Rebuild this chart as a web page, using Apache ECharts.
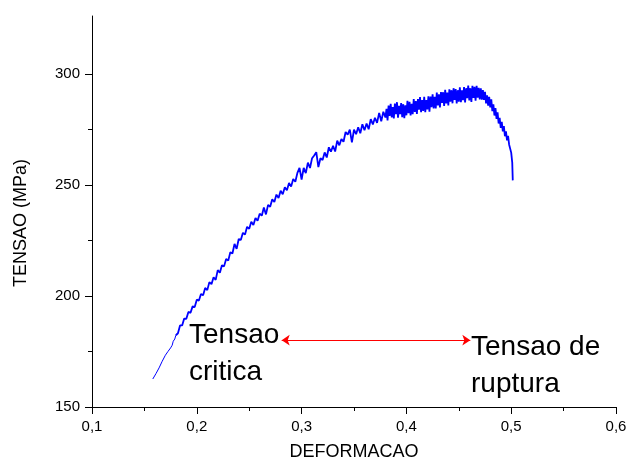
<!DOCTYPE html>
<html>
<head>
<meta charset="utf-8">
<script src="https://cdn.jsdelivr.net/npm/echarts@6/dist/echarts.min.js"></script>
<style>
  html, body { margin: 0; padding: 0; background: #fff; }
  #chart { width: 628px; height: 460px; }
</style>
</head>
<body>
<div id="chart"></div>
<script>
// Stress-strain record of the tensile test (strain, stress in MPa)
const strain = [
  0.158, 0.161, 0.164, 0.167, 0.170, 0.1725, 0.175, 0.1765, 0.1775, 0.178, 0.179,
  0.180, 0.182, 0.184, 0.186, 0.188, 0.190, 0.192, 0.194, 0.196, 0.198,
  0.200, 0.202, 0.204, 0.206, 0.208, 0.210, 0.212, 0.214, 0.216, 0.218,
  0.220, 0.222, 0.224, 0.226, 0.228, 0.230, 0.232, 0.234, 0.236, 0.238,
  0.240, 0.242, 0.244, 0.246, 0.248, 0.250, 0.252, 0.254, 0.256, 0.258,
  0.260, 0.262, 0.264, 0.266, 0.268, 0.270, 0.272, 0.274, 0.276, 0.278,
  0.280, 0.282, 0.284, 0.286, 0.288, 0.290, 0.292, 0.294, 0.296, 0.298,
  0.300, 0.302, 0.304, 0.306, 0.308, 0.310, 0.312, 0.314, 0.316, 0.318,
  0.320, 0.322, 0.324, 0.326, 0.328, 0.330, 0.332, 0.334, 0.336, 0.338,
  0.340, 0.342, 0.344, 0.346, 0.348, 0.350, 0.352, 0.354, 0.356, 0.358,
  0.360, 0.362, 0.364, 0.366, 0.368, 0.370, 0.372, 0.374, 0.376, 0.378,
  0.380,
  0.381, 0.382, 0.383, 0.384, 0.385, 0.386, 0.387, 0.388, 0.389, 0.390,
  0.391, 0.392, 0.393, 0.394, 0.395, 0.396, 0.397, 0.398, 0.399, 0.400,
  0.401, 0.402, 0.403, 0.404, 0.405, 0.406, 0.407, 0.408, 0.409, 0.410,
  0.411, 0.412, 0.413, 0.414, 0.415, 0.416, 0.417, 0.418, 0.419, 0.420,
  0.421, 0.422, 0.423, 0.424, 0.425, 0.426, 0.427, 0.428, 0.429, 0.430,
  0.431, 0.432, 0.433, 0.434, 0.435, 0.436, 0.437, 0.438, 0.439, 0.440,
  0.441, 0.442, 0.443, 0.444, 0.445, 0.446, 0.447, 0.448, 0.449, 0.450,
  0.451, 0.452, 0.453, 0.454, 0.455, 0.456, 0.457, 0.458, 0.459, 0.460,
  0.461, 0.462, 0.463, 0.464, 0.465, 0.466, 0.467, 0.468, 0.469, 0.470,
  0.471, 0.472, 0.473, 0.474, 0.475, 0.476, 0.477, 0.478, 0.479, 0.480,
  0.481, 0.482, 0.483, 0.484, 0.485, 0.486, 0.487, 0.488, 0.489, 0.490,
  0.491, 0.492, 0.493, 0.494, 0.495, 0.496, 0.497, 0.498, 0.499, 0.500,
  0.501, 0.5015
];

const stress = [
  162.6, 165.0, 167.6, 170.6, 173.3, 175.0, 176.6, 177.8, 179.6, 178.9, 180.6,
  182.3, 183.2, 186.7, 186.7, 189.8, 189.7, 192.8, 192.4, 195.3, 195.0,
  198.3, 197.9, 200.9, 200.3, 203.6, 202.6, 206.2, 205.3, 208.4, 207.2,
  211.6, 210.4, 213.8, 213.3, 216.6, 215.9, 219.7, 219.1, 223.4, 221.2,
  225.6, 225.2, 228.4, 227.6, 231.1, 230.2, 233.4, 231.9, 235.1, 233.8,
  237.0, 236.1, 239.8, 236.7, 241.0, 240.1, 243.5, 242.3, 245.6, 244.1,
  247.3, 245.8, 248.9, 247.6, 250.8, 249.2, 252.6, 251.4, 255.4, 257.6,
  252.4, 257.6, 255.3, 260.0, 257.6, 262.0, 263.2, 264.7, 258.0, 262.0,
  261.2, 264.6, 262.3, 266.9, 264.9, 267.6, 265.0, 269.9, 267.8, 270.6,
  269.4, 273.8, 272.6, 274.9, 269.1, 274.8, 272.8, 275.9, 273.2, 277.3,
  274.6, 277.6, 275.0, 279.6, 277.2, 280.2, 277.9, 282.4, 278.6, 282.9,
  280.3,
  284.2, 279.0, 285.7, 281.0, 286.5, 280.3, 285.0, 279.9, 286.6, 281.8,
  287.2, 280.2, 285.6, 281.8, 286.8, 280.5, 286.3, 280.0, 285.8, 281.3,
  287.8, 282.3, 287.4, 281.2, 286.5, 281.8, 288.6, 282.8, 287.7, 281.9,
  288.6, 283.8, 289.5, 282.7, 288.2, 283.3, 289.6, 282.7, 288.2, 284.0,
  289.9, 282.9, 289.7, 285.0, 290.8, 284.4, 289.6, 284.4, 291.5, 285.8,
  290.7, 284.8, 291.8, 286.9, 291.7, 285.5, 292.8, 286.6, 291.5, 285.7,
  293.0, 287.4, 292.6, 286.7, 293.5, 288.2, 293.1, 286.6, 292.6, 287.4,
  293.9, 287.2, 292.5, 288.1, 294.0, 287.1, 293.5, 289.0, 294.7, 288.0,
  293.5, 287.3, 294.6, 289.1, 294.1, 287.9, 294.6, 289.2, 293.7, 288.5,
  293.4, 288.3, 292.6, 288.2, 291.9, 286.7, 290.3, 285.6, 289.6, 284.9,
  288.5, 283.2, 286.2, 281.2, 284.5, 279.7, 282.6, 277.6, 280.2, 275.6,
  278.4, 274.1, 276.5, 271.9, 274.1, 270.0, 272.0, 268.2, 269.0, 264.5,
  260.0, 252.0
];

// Axis ticks
const stressTicks = [150, 200, 250, 300];
const stressMinorTicks = [175, 225, 275];

// Span of the arrow between the two stress annotations (strain) and its level (MPa)
const arrowSpan = [0.281, 0.461];
const arrowLevel = 180.1;

const curve = strain.map((s, i) => [s, stress[i]]);
// The early, smooth part of the record is drawn thinner than the serrated part
const SPLIT = 11;
const curveStart = curve.slice(0, SPLIT + 1);
const curveRest = curve.slice(SPLIT);

const FONT = '"Liberation Sans", Arial, sans-serif';
const chart = echarts.init(document.getElementById('chart'), null, { renderer: 'canvas' });

const lineBase = {
  type: 'line',
  yAxisIndex: 0,
  showSymbol: false,
  symbol: 'none',
  sampling: null,
  silent: true
};

chart.setOption({
  animation: false,
  backgroundColor: '#ffffff',
  grid: { left: 92, right: 12, top: 16, bottom: 53, containLabel: false, outerBoundsMode: 'none' },
  xAxis: {
    type: 'value',
    min: 0.1,
    max: 0.6,
    interval: 0.1,
    name: 'DEFORMACAO',
    nameLocation: 'middle',
    nameGap: 36,
    nameTextStyle: { fontFamily: FONT, fontSize: 18, color: '#000' },
    axisLine: { show: true, onZero: false, lineStyle: { color: '#000', width: 1 } },
    axisTick: { show: true, inside: false, length: 7, lineStyle: { color: '#000', width: 1 } },
    minorTick: { show: true, splitNumber: 2, length: 4, lineStyle: { color: '#000', width: 1 } },
    axisLabel: {
      margin: 12,
      fontFamily: FONT,
      fontSize: 15,
      color: '#000',
      formatter: v => v.toFixed(1).replace('.', ',')
    },
    splitLine: { show: false },
    minorSplitLine: { show: false }
  },
  yAxis: [
    {
      type: 'value',
      min: 150,
      max: 326,
      name: 'TENSAO (MPa)',
      nameLocation: 'middle',
      nameRotate: 90,
      nameGap: 62,
      nameTextStyle: { fontFamily: FONT, fontSize: 18, color: '#000', padding: [0, 23, 0, 0] },
      axisLine: { show: true, onZero: false, lineStyle: { color: '#000', width: 1 } },
      axisTick: { show: true, inside: false, length: 7, customValues: stressTicks, lineStyle: { color: '#000', width: 1 } },
      axisLabel: { margin: 12, fontFamily: FONT, fontSize: 15, color: '#000', customValues: stressTicks },
      splitLine: { show: false }
    },
    {
      type: 'value',
      position: 'left',
      min: 150,
      max: 326,
      axisLine: { show: false },
      axisTick: { show: true, inside: false, length: 4, customValues: stressMinorTicks, lineStyle: { color: '#000', width: 1 } },
      axisLabel: { show: false },
      splitLine: { show: false }
    }
  ],
  series: [
    Object.assign({}, lineBase, {
      data: curveStart,
      lineStyle: { color: '#0000ff', width: 1 }
    }),
    Object.assign({}, lineBase, {
      data: curveRest,
      lineStyle: { color: '#0000ff', width: 1.8 },
      markLine: {
        silent: true,
        symbol: ['arrow', 'arrow'],
        symbolSize: 8,
        label: { show: false },
        lineStyle: { color: '#ff0000', width: 1, type: 'solid' },
        emphasis: { disabled: true },
        data: [[
          { coord: [arrowSpan[0], arrowLevel] },
          { coord: [arrowSpan[1], arrowLevel] }
        ]]
      }
    })
  ],
  graphic: [
    {
      type: 'text',
      left: 189,
      top: 317,
      silent: true,
      style: {
        text: 'Tensao\ncritica',
        font: '28px ' + FONT,
        fill: '#000',
        lineHeight: 37
      }
    },
    {
      type: 'text',
      left: 471,
      top: 329,
      silent: true,
      style: {
        text: 'Tensao de\nruptura',
        font: '28px ' + FONT,
        fill: '#000',
        lineHeight: 37
      }
    }
  ]
});
</script>
</body>
</html>
